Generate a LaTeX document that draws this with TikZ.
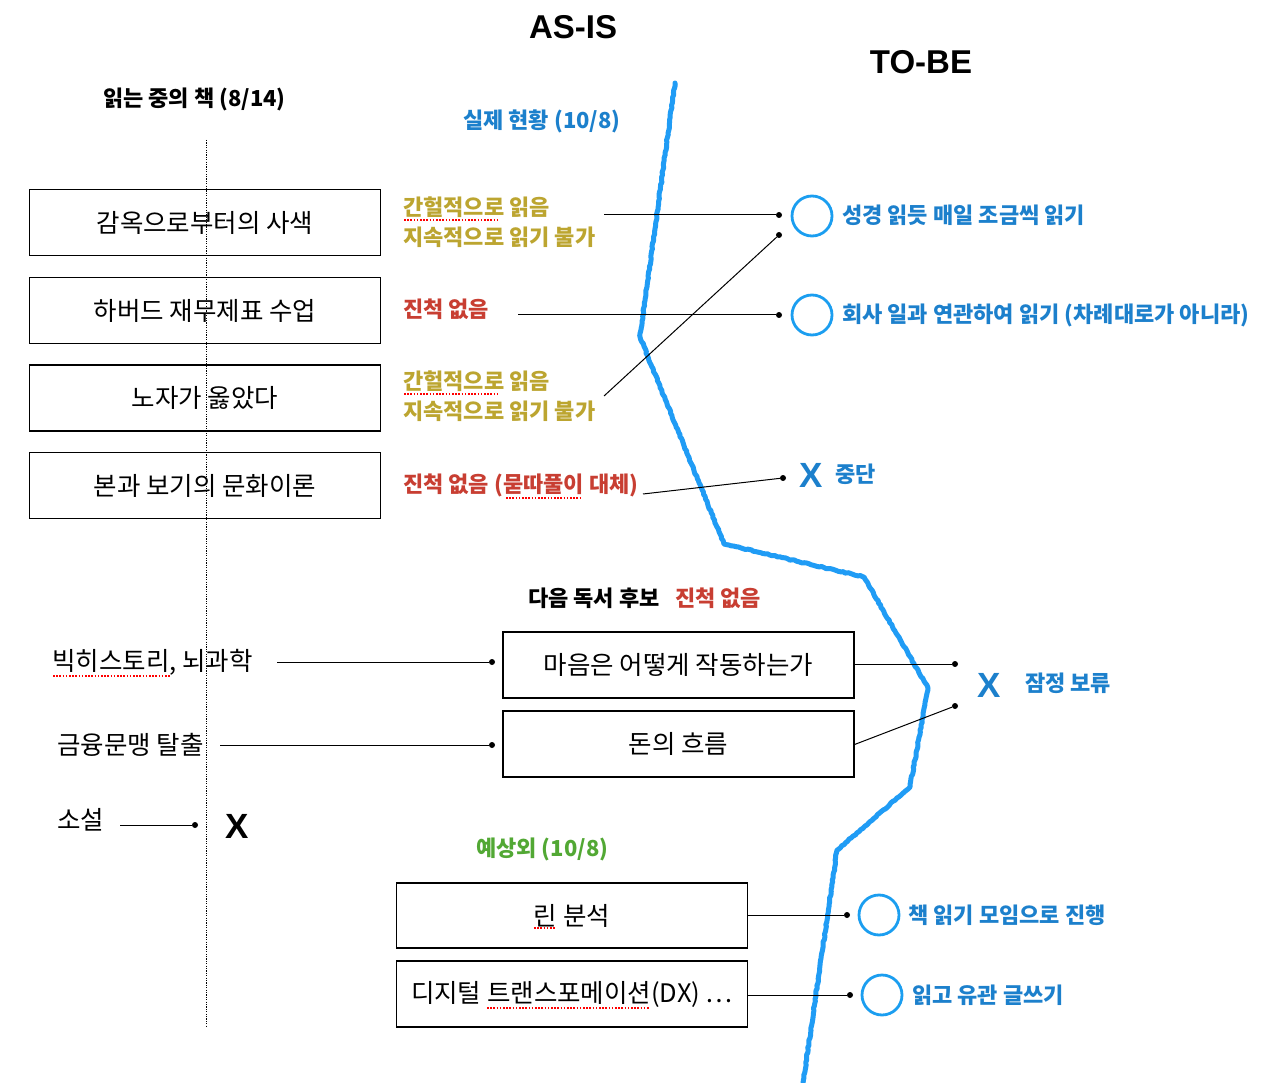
\documentclass[tikz,border=0pt]{standalone}
\usepackage{fontspec}
\setmainfont{Noto Sans CJK KR}
\newfontfamily\titlefont{Liberation Sans}
\usetikzlibrary{decorations.pathmorphing}
\definecolor{bluetxt}{RGB}{28,128,204}
\definecolor{ringblue}{RGB}{27,158,240}
\definecolor{crayon}{RGB}{32,156,245}
\definecolor{goldtxt}{RGB}{188,165,48}
\definecolor{redtxt}{RGB}{200,62,50}
\definecolor{greentxt}{RGB}{82,168,52}
\tikzset{
  box/.style={draw, line width=1.2pt, minimum width=351pt, minimum height=66pt, inner sep=0pt, font=\fontsize{25.5}{30}\selectfont},
  lbl/.style={anchor=west, inner sep=0pt, font=\bfseries\fontsize{22}{26}\selectfont},
  lbltwo/.style={anchor=west, inner sep=0pt, align=left, font=\bfseries\fontsize{22}{30}\selectfont, text=goldtxt},
  plain/.style={anchor=west, inner sep=0pt, font=\fontsize{25.5}{30}\selectfont},
  dotpt/.style={circle, fill=black, inner sep=0pt, minimum size=6pt},
  ring/.style={circle, draw=ringblue, line width=2.8pt, minimum size=40pt, inner sep=0pt},
  conn/.style={line width=1pt, draw=black},
  spell/.style={draw=red, line width=1.6pt, dash pattern=on 1.6pt off 1.6pt},
  bigx/.style={inner sep=0pt, font=\titlefont\bfseries\fontsize{35}{38}\selectfont},
  crayonline/.style={draw=crayon, line width=5pt, line join=round, line cap=round,
    decorate, decoration={random steps, segment length=2.5pt, amplitude=0.6pt}}
}
\begin{document}
\begin{tikzpicture}[x=1pt,y=-1pt]
\useasboundingbox (0,0) rectangle (1280,1083);
\fill[white] (0,0) rectangle (1280,1083);

% crayon divider
\draw[crayonline] (675,83) -- (640,337) -- (724,544) -- (864,577) -- (928,688) -- (910,787) -- (837,850) -- (803,1083);

% titles
\node[inner sep=0pt, font=\titlefont\bfseries\fontsize{33}{36}\selectfont] (asis) at (573,27) {AS-IS};
\node[inner sep=0pt, font=\titlefont\bfseries\fontsize{33}{36}\selectfont] (tobe) at (921,62) {TO-BE};
\node[lbl] (reading) at (103,99) {읽는 중의 책 (8/14)};
\node[lbl, text=bluetxt] (actual) at (463,121) {실제 현황 (10/8)};

% dotted vertical
\coordinate (vtop) at (206,140);
\coordinate (vbot) at (206,1027);
\draw[line width=0.7pt, dash pattern=on 1.2pt off 1.2pt] (vtop) -- (vbot);

% current books
\node[box] (b1) at (205,222.5) {감옥으로부터의 사색};
\node[box] (b2) at (205,310.5) {하버드 재무제표 수업};
\node[box] (b3) at (205,398) {노자가 옳았다};
\node[box] (b4) at (205,485.5) {본과 보기의 문화이론};

% status labels
\node[lbltwo] (s1) at (403,222) {간헐적으로 읽음\\지속적으로 읽기 불가};
\node[lbl, text=redtxt] (s2) at (403,309) {진척 없음};
\node[lbltwo] (s3) at (403,396) {간헐적으로 읽음\\지속적으로 읽기 불가};
\node[lbl, text=redtxt] (s4) at (403,485) {진척 없음 (묻따풀이 대체)};

% spell marks
\draw[spell] (404,220) -- (497,220);
\draw[spell] (404,394) -- (497,394);
\draw[spell] (506,498) -- (582,498);

% to-be items
\node[dotpt] (d1) at (779,215) {};
\node[dotpt] (d1b) at (779,235) {};
\node[dotpt] (d2) at (779,315) {};
\node[dotpt] (d4) at (783,478) {};
\node[ring] (r1) at (812,216) {};
\node[ring] (r2) at (812,315) {};
\node[lbl, text=bluetxt] (t1) at (842,215) {성경 읽듯 매일 조금씩 읽기};
\node[lbl, text=bluetxt] (t2) at (842,315) {회사 일과 연관하여 읽기 (차례대로가 아니라)};
\node[bigx, text=bluetxt] (x1) at (811,475) {X};
\node[lbl, text=bluetxt] (t4) at (835,474) {중단};

\coordinate (c1) at (604,215);
\coordinate (c2) at (518,315);
\coordinate (c3) at (604,396);
\coordinate (c4) at (643,494);
\draw[conn] (c1) -- (d1);
\draw[conn] (c3) -- (d1b);
\draw[conn] (c2) -- (d2);
\draw[conn] (c4) -- (d4);

% next candidates
\node[lbl] (next) at (528,598) {다음 독서 후보};
\node[lbl, text=redtxt] (next2) at (675,598) {진척 없음};
\node[box] (b5) at (678.5,665) {마음은 어떻게 작동하는가};
\node[box] (b6) at (678.5,744) {돈의 흐름};
\node[plain] (l1) at (52,662) {빅히스토리, 뇌과학};
\node[plain] (l2) at (57,745) {금융문맹 탈출};
\node[plain] (l3) at (57,820) {소설};
\draw[spell] (53,676) -- (170,676);
\node[dotpt] (e1) at (492,662) {};
\node[dotpt] (e2) at (492,745) {};
\node[dotpt] (e3) at (195,825) {};
\coordinate (f1) at (277,662);
\coordinate (f2) at (220,745);
\coordinate (f3) at (120,825);
\draw[conn] (f1) -- (e1);
\draw[conn] (f2) -- (e2);
\draw[conn] (f3) -- (e3);
\node[bigx] (x3) at (237,826) {X};

\node[dotpt] (g1) at (955,664) {};
\node[dotpt] (g2) at (955,706) {};
\draw[conn] (b5.east |- g1) -- (g1);
\draw[conn] ([yshift=-0.5pt]b6.east) -- (g2);
\node[bigx, text=bluetxt] (x2) at (989,685) {X};
\node[lbl, text=bluetxt] (t5) at (1025,683) {잠정 보류};

% unexpected
\node[lbl, text=greentxt] (unexp) at (476,849) {예상외 (10/8)};
\node[box, minimum height=65pt] (b7) at (572,915.5) {린 분석};
\node[box] (b8) at (572,994) {디지털 트랜스포메이션(DX) …};
\draw[spell] (534,928) -- (556,928);
\draw[spell] (487,1008) -- (650,1008);
\node[dotpt] (h1) at (847,915) {};
\node[dotpt] (h2) at (850,995) {};
\draw[conn] (b7.east |- h1) -- (h1);
\draw[conn] (b8.east |- h2) -- (h2);
\node[ring] (r3) at (879,915) {};
\node[ring] (r4) at (882,995) {};
\node[lbl, text=bluetxt] (t6) at (908,915) {책 읽기 모임으로 진행};
\node[lbl, text=bluetxt] (t7) at (912,995) {읽고 유관 글쓰기};
\end{tikzpicture}
\end{document}
